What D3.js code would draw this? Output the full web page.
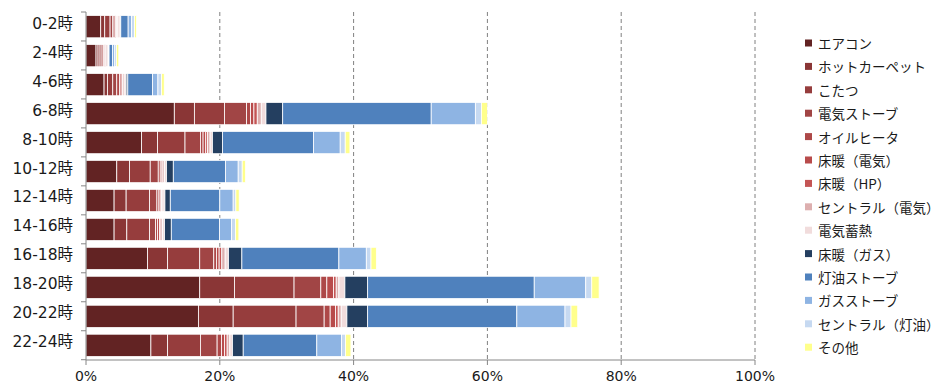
<!DOCTYPE html>
<html>
<head>
<meta charset="utf-8">
<script src="https://cdn.jsdelivr.net/npm/d3@7"></script>
<style>
  body { margin: 0; background: #fff; }
  svg text { font-family: "DejaVu Sans", Verdana, "Noto Sans CJK JP", sans-serif; fill: #1a1a1a; }
  svg .legend text { font-family: "Noto Sans CJK JP", sans-serif; }
</style>
</head>
<body>
<div id="chart"></div>
<script>
// time slots
const categories = ['0-2時','2-4時','4-6時','6-8時','8-10時','10-12時','12-14時','14-16時','16-18時','18-20時','20-22時','22-24時'];

const seriesNames = ['エアコン','ホットカーペット','こたつ','電気ストーブ','オイルヒータ','床暖（電気）','床暖（HP）','セントラル（電気）','電気蓄熱','床暖（ガス）','灯油ストーブ','ガスストーブ','セントラル（灯油）','その他'];

// share in %
const aircon      = [2.2, 1.5, 2.7, 13.2, 8.3, 4.6, 4.2, 4.2, 9.2, 17.0, 16.8, 9.7];
const hotCarpet   = [0.6, 0.3, 0.5, 3.0, 2.4, 1.9, 1.8, 1.9, 3.0, 5.2, 5.2, 2.5];
const kotatsu     = [0.8, 0.3, 0.8, 4.5, 4.1, 3.1, 3.5, 3.4, 4.8, 8.9, 9.4, 4.9];
const elecStove   = [0.4, 0.3, 0.6, 3.3, 2.3, 1.2, 1.1, 0.9, 2.1, 4.0, 4.2, 2.5];
const oilHeater   = [0.2, 0.2, 0.4, 0.6, 0.4, 0.3, 0.3, 0.3, 0.4, 0.9, 0.9, 0.65];
const floorElec   = [0.2, 0.2, 0.25, 0.5, 0.4, 0.25, 0.2, 0.3, 0.4, 1.0, 0.8, 0.45];
const floorHP     = [0.15, 0.15, 0.2, 0.5, 0.25, 0.15, 0.2, 0.2, 0.4, 0.4, 0.4, 0.4];
const centralElec = [0.2, 0.2, 0.25, 0.6, 0.4, 0.25, 0.2, 0.25, 0.5, 0.4, 0.45, 0.4];
const elecStorage = [0.35, 0.2, 0.3, 0.7, 0.35, 0.3, 0.3, 0.3, 0.5, 0.9, 0.85, 0.4];
const floorGas    = [0.1, 0.1, 0.25, 2.5, 1.5, 1.0, 0.8, 1.0, 2.0, 3.4, 3.1, 1.6];
const keroStove   = [1.1, 0.5, 3.7, 22.2, 13.6, 7.8, 7.4, 7.2, 14.5, 24.9, 22.3, 11.0];
const gasStove    = [0.5, 0.35, 0.8, 6.6, 4.0, 1.9, 2.0, 1.8, 4.1, 7.7, 7.2, 3.7];
const centralKero = [0.45, 0.25, 0.55, 0.9, 0.75, 0.6, 0.4, 0.6, 0.7, 0.9, 0.9, 0.6];
const other       = [0.3, 0.35, 0.4, 0.9, 0.7, 0.5, 0.5, 0.5, 0.8, 1.1, 1.0, 0.8];

const xTicks = [0, 20, 40, 60, 80, 100];

const colors = ['#622323','#8a3636','#963d3d','#a14545','#ad4848','#b84b4b','#c45555','#ddafaf','#f1dcdc','#243f60','#4f81bd','#8eb4e3','#c6d9f1','#ffff8c'];

const allSeries = [aircon, hotCarpet, kotatsu, elecStove, oilHeater, floorElec, floorHP, centralElec, elecStorage, floorGas, keroStove, gasStove, centralKero, other];

const width = 938, height = 383;

// build table for d3.stack
const table = categories.map((c, i) => {
  const row = { cat: c };
  seriesNames.forEach((s, k) => { row[s] = allSeries[k][i]; });
  return row;
});
const stacked = d3.stack().keys(seriesNames)(table);

const x = d3.scaleLinear().domain([0, 100]).range([86, 755]);
const y = d3.scaleBand().domain(categories).range([12, 360]).paddingInner(0.23).paddingOuter(0.12);
const color = d3.scaleOrdinal().domain(seriesNames).range(colors);

const svg = d3.select('#chart').append('svg')
  .attr('width', width)
  .attr('height', height);

// grid
svg.append('g')
  .selectAll('line')
  .data(xTicks.slice(1))
  .enter().append('line')
  .attr('x1', d => x(d)).attr('x2', d => x(d))
  .attr('y1', 12).attr('y2', 360)
  .attr('stroke', '#808080')
  .attr('stroke-dasharray', '4,3');

// bars
svg.append('g')
  .selectAll('g')
  .data(stacked)
  .enter().append('g')
  .attr('fill', d => color(d.key))
  .selectAll('rect')
  .data(d => d)
  .enter().append('rect')
  .attr('x', d => x(d[0]))
  .attr('y', d => y(d.data.cat))
  .attr('width', d => Math.max(0, x(d[1]) - x(d[0])))
  .attr('height', y.bandwidth())
  .attr('stroke', '#fff')
  .attr('stroke-width', 0.8);

// y axis
const yAxis = svg.append('g')
  .attr('transform', 'translate(86,0)');
yAxis.append('line')
  .attr('x1', 0).attr('x2', 0).attr('y1', 12).attr('y2', 360)
  .attr('stroke', '#868686');
yAxis.selectAll('line.tick')
  .data(d3.range(categories.length + 1))
  .enter().append('line')
  .attr('class', 'tick')
  .attr('x1', -5).attr('x2', 0)
  .attr('y1', d => 12 + d * y.step())
  .attr('y2', d => 12 + d * y.step())
  .attr('stroke', '#868686');
yAxis.selectAll('text')
  .data(categories)
  .enter().append('text')
  .attr('x', -13)
  .attr('y', d => y(d) + y.bandwidth() / 2 - 3)
  .attr('text-anchor', 'end')
  .attr('dominant-baseline', 'central')
  .style('font-size', '15.5px')
  .text(d => d);

// x axis
const xAxis = svg.append('g');
xAxis.append('line')
  .attr('x1', 86).attr('x2', 755).attr('y1', 360).attr('y2', 360)
  .attr('stroke', '#868686');
xAxis.selectAll('line.tick')
  .data(xTicks)
  .enter().append('line')
  .attr('class', 'tick')
  .attr('x1', d => x(d)).attr('x2', d => x(d))
  .attr('y1', 360).attr('y2', 365)
  .attr('stroke', '#868686');
xAxis.selectAll('text')
  .data(xTicks)
  .enter().append('text')
  .attr('x', d => x(d))
  .attr('y', 376)
  .attr('text-anchor', 'middle')
  .attr('dominant-baseline', 'central')
  .style('font-size', '14px')
  .text(d => d + '%');

// legend
const legend = svg.append('g')
  .attr('class', 'legend')
  .attr('transform', 'translate(805,43)')
  .selectAll('g')
  .data(seriesNames)
  .enter().append('g')
  .attr('transform', (d, i) => 'translate(0,' + (i * 23.4) + ')');
legend.append('rect')
  .attr('x', 0).attr('y', -3.5)
  .attr('width', 7).attr('height', 7)
  .attr('fill', d => color(d));
legend.append('text')
  .attr('x', 13)
  .attr('y', 0)
  .attr('dominant-baseline', 'central')
  .style('font-size', '13.5px')
  .text(d => d);
</script>
</body>
</html>
